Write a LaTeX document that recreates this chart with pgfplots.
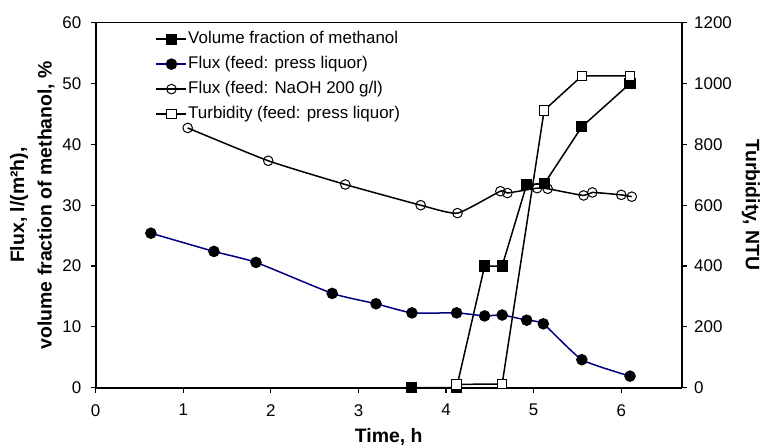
\documentclass[border=0pt]{standalone}
\usepackage{fontspec}
\setmainfont{Liberation Sans}
\usepackage{pgfplots}
\pgfplotsset{compat=1.18}
\definecolor{navy}{RGB}{0,0,128}
\begin{document}
\begin{tikzpicture}
\pgfplotsset{
  every axis/.append style={
    scale only axis, width=586bp, height=365bp,
    xmin=0, xmax=6.69,
    /pgf/number format/assume math mode=true,
    /pgf/number format/1000 sep={},
    tick align=outside, major tick length=5bp,
    tick style={line width=1.2bp, black},
    tick label style={font=\fontsize{17}{20}\selectfont},
    clip=false,
  },
  methanol/.style={black, line width=1.5bp, mark=square*, mark size=4.8bp, mark options={solid, fill=black}},
  fluxpress/.style={navy, line width=1.5bp, mark=*, mark size=5bp, mark options={solid, fill=black, draw=black}},
  fluxnaoh/.style={black, line width=1.5bp, mark=o, mark size=4.8bp, mark options={solid, fill=white, draw=black, line width=1bp}},
  turb/.style={black, line width=1.5bp, mark=square*, mark size=4.8bp, mark options={solid, fill=white, draw=black, line width=1bp}},
}
\begin{axis}[name=ax,
  ymin=0, ymax=60, ytick={0,10,...,60}, xtick={0,1,...,6},
  axis x line*=bottom, axis y line*=left,
  axis line style={line width=2bp},
  xticklabel style={yshift=-8bp},
  yticklabel style={xshift=-6bp},
  xlabel={\bfseries Time, h},
  xlabel style={at={(axis description cs:0.5,-0.150)}, anchor=base, font=\fontsize{19.5}{22}\selectfont},
  ylabel={\bfseries Flux, l/(m²h),\\\bfseries volume fraction of methanol, \%},
  ylabel style={at={(axis description cs:-0.108,0.5)}, anchor=center, rotate=0, align=center, font=\fontsize{19.5}{27.5}\selectfont},
]
\addplot[fluxnaoh, smooth, tension=0.3] coordinates {
(1.05,42.7) (1.97,37.3) (2.85,33.4) (3.71,30.0) (4.13,28.7) (4.62,32.3) (4.70,32.0)
(5.04,32.8) (5.16,32.7) (5.57,31.6) (5.67,32.1) (6.00,31.7) (6.12,31.4)};
\addplot[fluxpress, smooth, tension=0.3] coordinates {
(0.63,25.4) (1.35,22.4) (1.83,20.6) (2.70,15.5) (3.20,13.8) (3.61,12.3) (4.12,12.3)
(4.44,11.8) (4.64,11.95) (4.92,11.1) (5.11,10.5) (5.55,4.6) (6.10,1.9)};
\addplot[methanol] coordinates {
(3.61,0) (4.12,0) (4.44,20.0) (4.64,20.0) (4.92,33.4) (5.12,33.5) (5.55,42.9) (6.10,50.0)};
\end{axis}
\begin{axis}[
  ymin=0, ymax=1200, ytick={0,200,...,1200},
  axis x line*=top, axis y line*=right, xtick=\empty,
  x axis line style={line width=0.9bp},
  y axis line style={line width=2bp},
  yticklabel style={xshift=4bp},
  ylabel={\bfseries Turbidity, NTU},
  ylabel style={at={(axis description cs:1.118,0.5)}, anchor=center, rotate=-180, font=\fontsize{19.5}{22}\selectfont},
  legend style={draw=none, fill=none, at={(axis description cs:0.097,0.985)}, anchor=north west,
    font=\fontsize{17}{20}\selectfont, row sep=7.5bp,
    nodes={inner sep=1bp, text height=12bp, text depth=3.5bp}},
  legend cell align=left,
  legend image code/.code={\draw[mark repeat=2,mark phase=2,#1] plot coordinates {(0bp,0bp) (15bp,0bp) (30bp,0bp)};},
]
\addlegendimage{methanol}
\addlegendentry{Volume fraction of methanol}
\addlegendimage{fluxpress}
\addlegendentry{Flux (feed: press liquor)}
\addlegendimage{fluxnaoh}
\addlegendentry{Flux (feed: NaOH 200 g/l)}
\addplot[turb] coordinates {(4.12,11) (4.64,12) (5.12,912) (5.55,1025) (6.10,1025)};
\addlegendentry{Turbidity (feed: press liquor)}
\end{axis}
\pgfresetboundingbox
\path[use as bounding box] ([xshift=-95.7bp, yshift=-59.3bp]ax.south west) rectangle ([xshift=79.3bp, yshift=22.7bp]ax.north east);
\end{tikzpicture}
\end{document}
